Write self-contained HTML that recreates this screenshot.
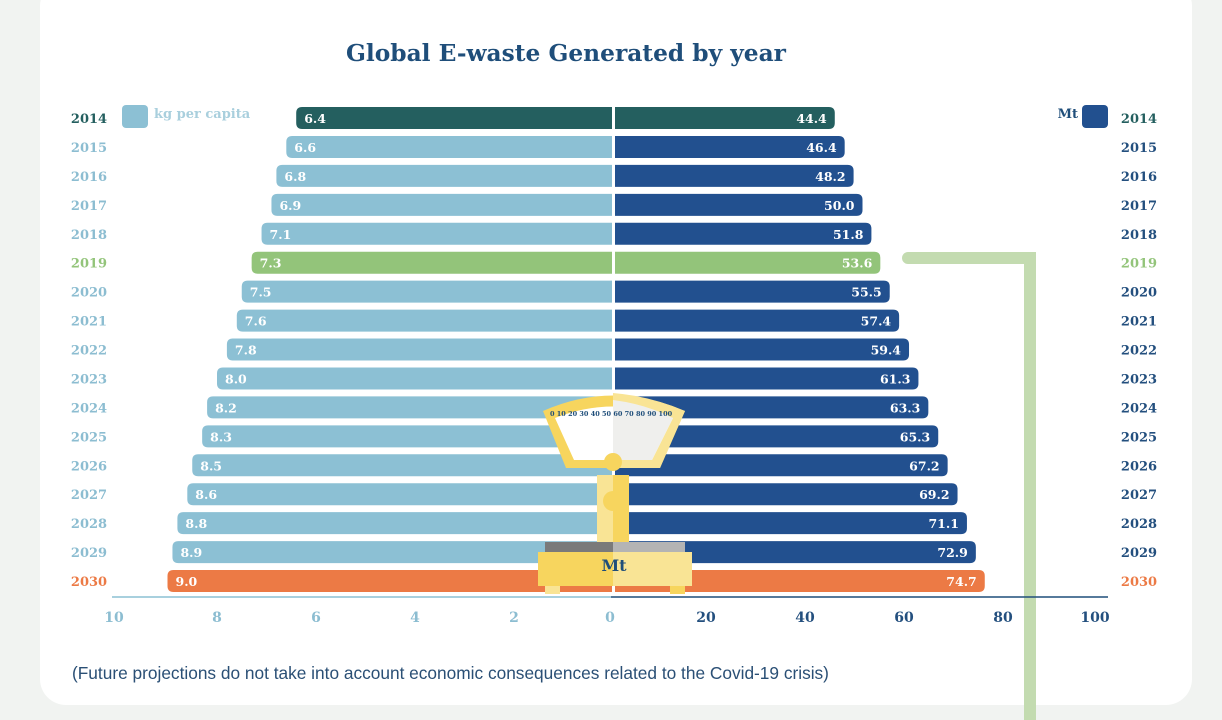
<!DOCTYPE html>
<html><head><meta charset="utf-8"><style>
body{margin:0;width:1222px;height:720px;background:#f1f3f1;overflow:hidden;font-family:"DejaVu Serif","Liberation Serif",serif}
svg{position:absolute;left:0;top:0}
</style></head><body>
<svg width="1222" height="720">
<rect x="40" y="-20" width="1152" height="725" rx="26" fill="#ffffff"/>
<text x="566" y="61" text-anchor="middle" font-size="23.3" font-weight="bold" fill="#1f4e7a">Global E-waste Generated by year</text>
<g id="bars"></g>
<path d="M908 258 H1030 V720" stroke="#c3dbb0" stroke-width="12" fill="none" stroke-linecap="round"/>
<rect x="122" y="105" width="26" height="23" rx="4" fill="#8cc0d4"/>
<text x="154" y="118" font-size="13" font-weight="bold" fill="#a9cfdd">kg per capita</text>
<text x="1078" y="118" text-anchor="end" font-size="13" font-weight="bold" fill="#1f4e7a">Mt</text>
<rect x="1082" y="105" width="26" height="23" rx="4" fill="#22508f"/>
<line x1="112" y1="597" x2="611" y2="597" stroke="#8cc0d4" stroke-width="1.5"/>
<line x1="611" y1="597" x2="1108" y2="597" stroke="#1f4e7a" stroke-width="1.5"/>
<g id="ticks"></g>
<g>
<path d="M543 411 Q613 380 685 411 L660 468 H566 Z" fill="#f7d55e"/>
<path d="M613 393 Q650 396 685 411 L660 468 H613 Z" fill="#f9e495"/>
<path d="M555 418 Q613 395 673 418 L652 460 H574 Z" fill="#ffffff"/>
<path d="M613 400 Q645 404 673 418 L652 460 H613 Z" fill="#efefed"/>
<circle cx="613" cy="462" r="9" fill="#f7d55e"/>
<rect x="597" y="475" width="32" height="68" fill="#f9e495"/>
<rect x="613" y="475" width="16" height="68" fill="#f7d55e"/>
<circle cx="613" cy="501" r="10" fill="#f7d55e"/>
<rect x="545" y="542" width="68" height="12" fill="#7a7a7a"/>
<rect x="613" y="542" width="72" height="12" fill="#b4b4b4"/>
<rect x="538" y="552" width="75" height="34" fill="#f7d55e"/>
<rect x="613" y="552" width="79" height="34" fill="#f9e495"/>
<rect x="545" y="586" width="15" height="8" fill="#f9e495"/>
<rect x="670" y="586" width="15" height="8" fill="#f7d55e"/>
<text x="550" y="416" font-size="6.5" fill="#1f4e7a" font-weight="bold">0 10 20 30 40 50 60 70 80 90 100</text>
<text x="614" y="571" text-anchor="middle" font-size="16" font-weight="bold" fill="#1f4e7a">Mt</text>
</g>
<text x="72" y="679" font-family="Liberation Sans, sans-serif" font-size="17.3" fill="#2a4f75">(Future projections do not take into account economic consequences related to the Covid-19 crisis)</text>
</svg>
<script>
const years=[2014,2015,2016,2017,2018,2019,2020,2021,2022,2023,2024,2025,2026,2027,2028,2029,2030];
const kgPerCapita=[6.4,6.6,6.8,6.9,7.1,7.3,7.5,7.6,7.8,8.0,8.2,8.3,8.5,8.6,8.8,8.9,9.0];
const mt=[44.4,46.4,48.2,50.0,51.8,53.6,55.5,57.4,59.4,61.3,63.3,65.3,67.2,69.2,71.1,72.9,74.7];
const leftTicks=[10,8,6,4,2,0];
const rightTicks=[20,40,60,80,100];
const NS='http://www.w3.org/2000/svg';
const C=613;
const xL=v=>C-v*49.5;
const xR=v=>615+v*4.95;
const yRow=i=>107+i*28.94;
function el(tag,attrs,parent,txt){const e=document.createElementNS(NS,tag);for(const k in attrs)e.setAttribute(k,attrs[k]);if(txt!==undefined)e.textContent=txt;parent.appendChild(e);return e;}
function rbar(x0,x1,y,h,r,left){
  if(left) return `M${x1} ${y} H${x0+r} Q${x0} ${y} ${x0} ${y+r} V${y+h-r} Q${x0} ${y+h} ${x0+r} ${y+h} H${x1} Z`;
  return `M${x0} ${y} H${x1-r} Q${x1} ${y} ${x1} ${y+r} V${y+h-r} Q${x1} ${y+h} ${x1-r} ${y+h} H${x0} Z`;
}
const g=document.getElementById('bars');
years.forEach((yr,i)=>{
  const y=yRow(i),h=22;
  let lc='#8cc0d4',rc='#22508f',ylc='#8cbdd1',yrc='#234f7e';
  if(i===0){lc=rc='#245f5f';ylc=yrc='#245f5f';}
  if(yr===2019){lc=rc='#93c47a';ylc=yrc='#93c47a';}
  if(yr===2030){lc=rc='#ec7a45';ylc=yrc='#ec7a45';}
  const lb=el('path',{d:rbar(xL(kgPerCapita[i]),C-1,y,h,6,true),fill:lc},g);
  
  
  const rb=el('path',{d:rbar(C+2,xR(mt[i]),y,h,6,false),fill:rc},g);
  
  
  const lt=el('text',{x:xL(kgPerCapita[i])+8,y:y+16,'font-size':12.5,'font-weight':'bold',fill:'#fff'},g,kgPerCapita[i].toFixed(1));
  
  
  const rt=el('text',{x:xR(mt[i])-8,y:y+16,'font-size':12.5,'font-weight':'bold',fill:'#fff','text-anchor':'end'},g,mt[i].toFixed(1));
  
  
  const ly=el('text',{x:89,y:y+16,'font-size':13,'font-weight':'bold',fill:ylc,'text-anchor':'middle'},g,yr);
  
  
  const ry=el('text',{x:1139,y:y+16,'font-size':13,'font-weight':'bold',fill:yrc,'text-anchor':'middle'},g,yr);
  
  
});
const t=document.getElementById('ticks');
leftTicks.forEach(v=>{
  const e=el('text',{x:v===10?114:(v===0?610:xL(v)),y:622,'font-size':14,'font-weight':'bold',fill:'#8cbdd1','text-anchor':'middle'},t,v);
  
  
});
rightTicks.forEach(v=>{
  const e=el('text',{x:v===100?1095:xR(v)-8,y:622,'font-size':14,'font-weight':'bold',fill:'#234f7e','text-anchor':'middle'},t,v);
  
  
});
</script>
</body></html>
